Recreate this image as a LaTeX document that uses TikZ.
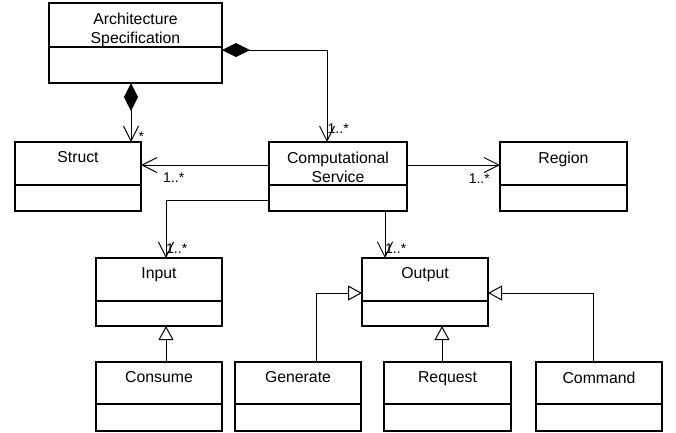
\documentclass[tikz,border=0pt]{standalone}
\usepackage{fontspec}
\setmainfont{Liberation Sans}
\usetikzlibrary{arrows.meta,calc}
\tikzset{
  classbox/.style={draw, line width=1.1pt, inner sep=0pt, outer sep=0pt, rectangle},
  classline/.style={line width=1.1pt},
  classtext/.style={inner sep=0pt, align=center, font=\fontsize{15.8}{19}\selectfont},
  conn/.style={line width=1pt},
  assoc/.style={conn, -{Straight Barb[length=15pt,width=15pt,line width=1pt]}},
  compo/.style={conn, {Diamond[length=28pt,width=14pt,fill=black]}-{Straight Barb[length=15pt,width=15pt,line width=1pt]}},
  gen/.style={conn, -{Triangle[open,length=14pt,width=15pt,fill=white,line width=1pt]}},
  mult/.style={inner sep=0pt, font=\fontsize{14}{16}\selectfont},
}
\newcommand\umlclass[7]{%
  \node[classbox, minimum width={(#4-#2)*1pt}, minimum height={(#5-#3)*1pt}] (#1) at ({(#2+#4)/2},{(#3+#5)/2}) {};
  \draw[classline] (#1.west |- 0,#6) -- (#1.east |- 0,#6);
  \node[classtext, anchor=north] (#1-label) at ({(#2+#4)/2},{#3+9.5}) {#7};
}
\begin{document}
\begin{tikzpicture}[x=1pt,y=-1pt]
\useasboundingbox (0,0) rectangle (676,432);
\umlclass{arch}{49}{3}{222}{83}{47}{Architecture\\Specification}
\umlclass{struct}{15}{142}{141}{211}{185}{Struct}
\umlclass{comp}{269}{142}{407}{211}{185}{Computational\\Service}
\umlclass{region}{500}{142}{627}{211}{185}{Region}
\umlclass{input}{96}{258}{222}{326}{301}{Input}
\umlclass{output}{362}{258}{488}{326}{301}{Output}
\umlclass{consume}{96}{362}{222}{431}{404}{Consume}
\umlclass{generate}{235}{362}{361}{431}{404}{Generate}
\umlclass{request}{384}{362}{511}{431}{404}{Request}
\umlclass{command}{536}{362}{662}{431}{404}{Command}
% compositions
\draw[compo] (arch.south -| 131,0) -- (struct.north -| 131,0);
\node[mult, anchor=base west] (m1) at (138.5,141) {*};
\draw[compo] (arch.east |- 0,50) -| (comp.north -| 327,0);
\node[mult, anchor=base west] (m2) at (327.5,133) {1..*};
% associations
\draw[assoc] (comp.west |- 0,165) -- (struct.east |- 0,165);
\node[mult, anchor=base west] (m3) at (163,182) {1..*};
\draw[assoc] (comp.east |- 0,165) -- (region.west |- 0,165);
\node[mult, anchor=base east] (m4) at (490,183) {1..*};
\draw[assoc] (comp.west |- 0,200) -| (input.north -| 166,0);
\node[mult, anchor=base west] (m5) at (166,253) {1..*};
\draw[assoc] (comp.south -| 385,0) -- (output.north -| 385,0);
\node[mult, anchor=base west] (m6) at (385,253) {1..*};
% generalizations
\draw[gen] (consume.north -| 166,0) -- (input.south -| 166,0);
\draw[gen] (generate.north -| 316,0) |- (output.west |- 0,293);
\draw[gen] (request.north -| 442,0) -- (output.south -| 442,0);
\draw[gen] (command.north -| 593,0) |- (output.east |- 0,293);
\end{tikzpicture}
\end{document}
